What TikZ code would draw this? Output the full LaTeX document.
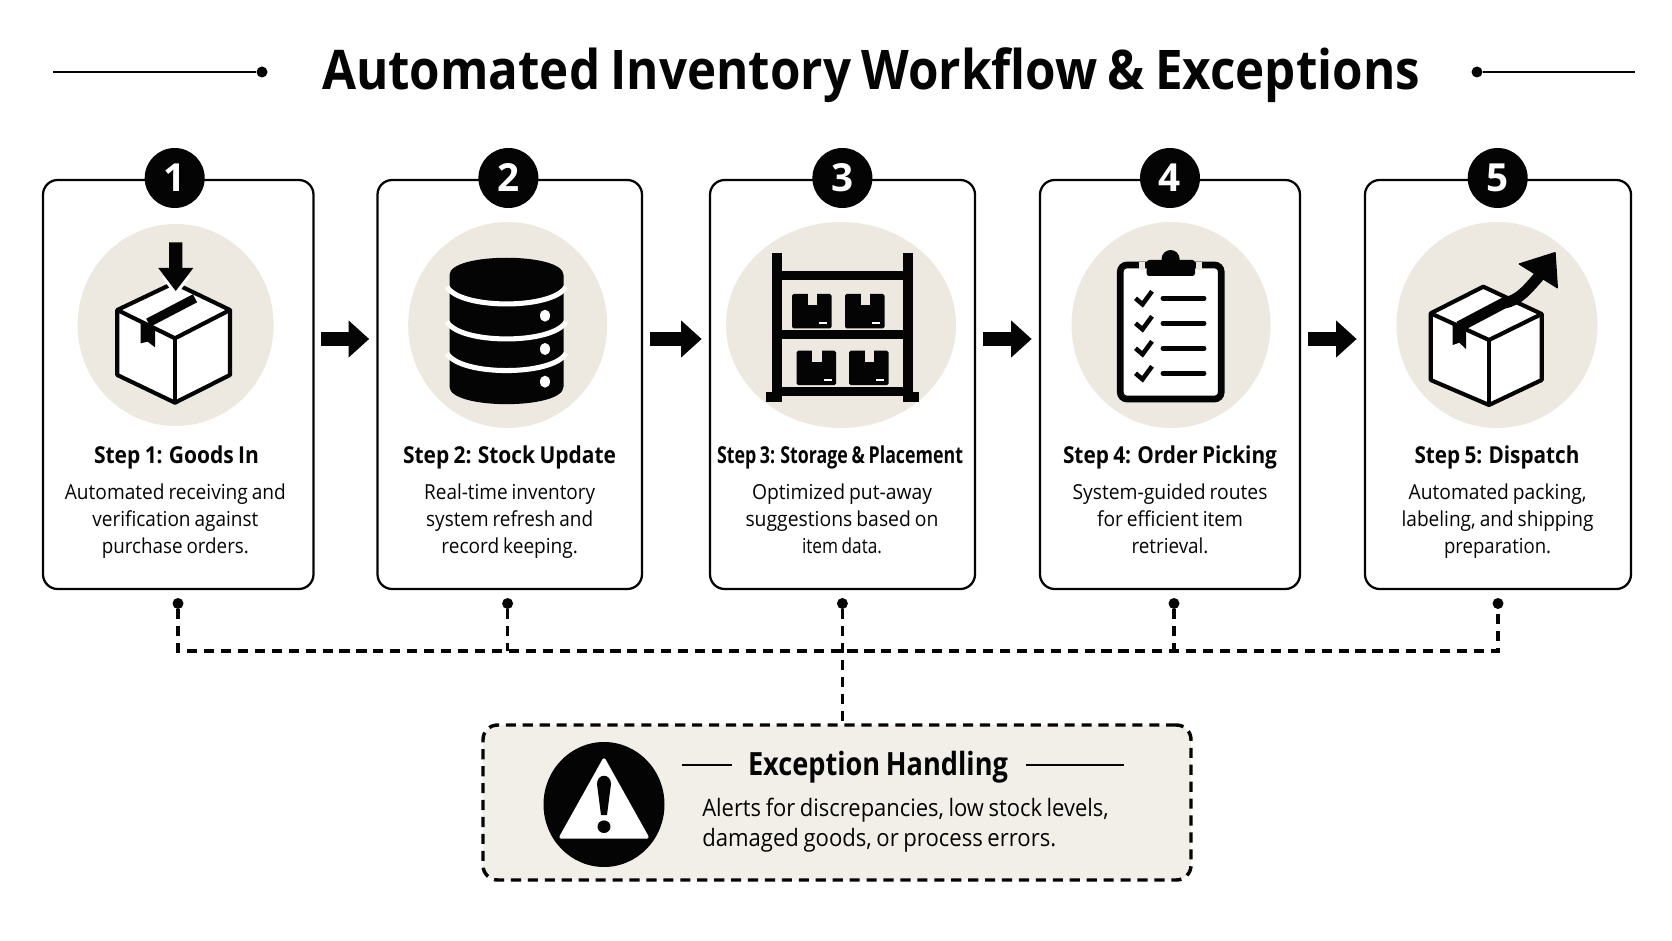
\documentclass[tikz,border=0pt]{standalone}
\usepackage{fontspec}
\usepackage{graphicx}
\setmainfont[Ligatures=CommonOff,WordSpace=0.8]{Open Sans}
\usetikzlibrary{arrows.meta,calc,shapes.geometric}
\definecolor{beige}{HTML}{EDE8E0}
\definecolor{excfill}{HTML}{F2EEE8}
\definecolor{ink}{HTML}{040404}
\newlength\fxlen
\newcommand\fx[2]{\settowidth{\fxlen}{#2}\pgfmathsetmacro\fxr{#1*0.75/\fxlen}\vphantom{Agy}\scalebox{\fxr}[1]{#2}}
\newcommand\pxfont[2]{\fontsize{#1}{#2}\selectfont}
\tikzset{
  card/.style={draw=ink,line width=1.7pt,fill=white,rounded corners=11pt,inner sep=0pt,minimum height=409*0.75pt},
  badge/.style={circle,fill=ink,text=white,inner sep=0pt,minimum size=60*0.75pt,font=\bfseries\pxfont{29}{29}},
  steptitle/.style={anchor=base,text=ink,font=\bfseries\pxfont{17.5}{22},inner sep=0pt},
  stepdesc/.style={align=center,text=ink,font=\pxfont{15.5}{20.5},inner sep=0pt},
  flowarrow/.style={draw=ink,line width=10pt,-{Triangle[length=15.5pt,width=27pt]},shorten >=5.4pt,shorten <=5pt},
  busdot/.style={circle,fill=ink,inner sep=0pt,minimum size=11*0.75pt},
  bus/.style={draw=ink,line width=2.6pt,dash pattern=on 7.6pt off 5.1pt},
  ruleline/.style={draw=ink,line width=1.5pt},
  icon/.style={draw=ink,line width=3.1pt,line join=round,fill=white},
}
\begin{document}
\begin{tikzpicture}[x=0.75pt,y=-0.75pt]
\useasboundingbox (0,0) rectangle (1672,941);
\fill[white] (0,0) rectangle (1672,941);

% title
\node[anchor=base,inner sep=0pt,text=ink,font=\bfseries\pxfont{41}{48}] (title) at (871,90) {\fx{1098}{Automated Inventory Workflow \& Exceptions}};
\node[busdot] (tl) at (262,72) {};
\node[busdot] (tr) at (1477,72) {};
\coordinate (tle) at (53,72);
\coordinate (tre) at (1635,72);
\draw[ruleline] (tle) -- (tl);
\draw[ruleline] (tr) -- (tre);

% cards
\node[card,minimum width=270.5*0.75pt] (s1) at (178.25,384.5) {};
\node[card,minimum width=264.5*0.75pt] (s2) at (509.75,384.5) {};
\node[card,minimum width=265*0.75pt] (s3) at (842.5,384.5) {};
\node[card,minimum width=260*0.75pt] (s4) at (1170,384.5) {};
\node[card,minimum width=266*0.75pt] (s5) at (1498,384.5) {};

% badges
\node[badge] (b1) at (174.7,178) {1};
\node[badge] (b2) at (508.4,178) {2};
\node[badge] (b3) at (842.4,178) {3};
\node[badge] (b4) at (1170,178) {4};
\node[badge] (b5) at (1497.7,178) {5};

% halos
\fill[beige] (175.6,325) ellipse [x radius=98*0.75pt,y radius=101*0.75pt];
\fill[beige] (507.7,325) ellipse [x radius=99.5*0.75pt,y radius=103*0.75pt];
\fill[beige] (841,325) ellipse [x radius=115*0.75pt,y radius=103*0.75pt];
\fill[beige] (1171,325) ellipse [x radius=99.5*0.75pt,y radius=103*0.75pt];
\fill[beige] (1497,325) ellipse [x radius=100.5*0.75pt,y radius=103*0.75pt];

% icon 1: box with arrow down
\draw[icon] (117.3,310) -- (174,283) -- (230,310) -- (230,375) -- (175,402.7) -- (117.3,375) -- cycle;
\draw[icon,fill=none] (117.3,310) -- (175,338.3) -- (230,310);
\draw[icon,fill=none] (175,338.3) -- (175,402.7);
\draw[ink,line width=6.8pt] (148.3,322.7) -- (195,298.3);
\fill[ink] (140.7,321.7) -- (155,330) -- (155,347.3) -- (147.7,341.7) -- (140.7,343.3) -- cycle;
\draw[white,line width=2.6pt,line join=round] (163,276) -- (175.7,293.5) -- (189,276);
\fill[ink] (169,242.3) -- (182.3,242.3) -- (182.3,268) -- (193.3,268) -- (175.7,291) -- (158.3,268) -- (169,268) -- cycle;

% icon 2: database
\fill[ink] (449.5,275) .. controls (449.5,252) and (563.5,252) .. (563.5,275) -- (563.5,386.7) .. controls (563.5,410) and (449.5,410) .. (449.5,386.7) -- cycle;
\foreach \yy in {286.7,321.7,353.3}{
  \draw[white,line width=3.8pt] (447,\yy) .. controls (460,\yy+23) and (553,\yy+23) .. (566,\yy);
}
\fill[white] (545,315.7) ellipse [x radius=5*0.75pt,y radius=6*0.75pt];
\fill[white] (545,349) ellipse [x radius=5*0.75pt,y radius=6*0.75pt];
\fill[white] (545,381.7) ellipse [x radius=5*0.75pt,y radius=6*0.75pt];

% icon 3: shelf
\fill[ink] (772,252.7) rectangle (782,401.7);
\fill[ink] (903.4,252.7) rectangle (913,401.7);
\fill[ink] (766,391.7) rectangle (782,401.7);
\fill[ink] (903.4,391.7) rectangle (919.4,401.7);
\fill[ink] (772,270.7) rectangle (913,280);
\fill[ink] (772,330) rectangle (913,339.3);
\fill[ink] (772,386.7) rectangle (913,396);
\foreach \bx/\by in {792/294,845/294,796.5/350.7,849/350.7}{
  \fill[ink,rounded corners=1.2pt] (\bx,\by) rectangle (\bx+39.5,\by+34.4);
  \fill[beige] (\bx+15.8,\by-1) rectangle (\bx+25,\by+11);
  \fill[white] (\bx+27,\by+28) rectangle (\bx+35,\by+30.4);
}

% icon 4: clipboard
\draw[ink,line width=5pt,fill=white,rounded corners=5pt] (1120.3,265) rectangle (1221.2,399);
\draw[beige,line width=4pt] (1142,262) -- (1142,270);
\draw[beige,line width=4pt] (1199,262) -- (1199,270);
\fill[ink,rounded corners=2pt] (1146.6,260) rectangle (1195,276);
\fill[ink] (1170.6,259) circle [radius=9*0.75pt];
\foreach \yy in {298.3,323.3,348.3,373.3}{
  \draw[ink,line width=3.7pt,line cap=round] (1163,\yy) -- (1204,\yy);
  \draw[ink,line width=3.4pt,line join=miter] (1135.5,\yy) -- (1142.5,\yy+6) -- (1152,\yy-7);
}

% icon 5: box with arrow out
\draw[icon] (1430.7,313.3) -- (1483.3,286.7) -- (1541.7,314) -- (1541.7,380) -- (1489,405) -- (1430.7,380) -- cycle;
\draw[icon,fill=none] (1430.7,313.3) -- (1489,340) -- (1541.7,314);
\draw[icon,fill=none] (1489,340) -- (1489,405);
\draw[ink,line width=8.3pt,line cap=butt] (1459,326.7) -- (1503.3,303.3) .. controls (1520,300) and (1526.7,290) .. (1541.7,273.3);
\fill[ink] (1452.7,323.3) -- (1466,331.7) -- (1466,349) -- (1459.3,342.7) -- (1452.7,345) -- cycle;
\fill[ink,line join=round,draw=ink,line width=1pt] (1555,252.7) -- (1519.3,264) -- (1557.3,287.7) -- cycle;

% flow arrows
\coordinate (ay) at (0,339);
\draw[flowarrow] (s1.east |- ay) -- (s2.west |- ay);
\draw[flowarrow] (s2.east |- ay) -- (s3.west |- ay);
\draw[flowarrow] (s3.east |- ay) -- (s4.west |- ay);
\draw[flowarrow] (s4.east |- ay) -- (s5.west |- ay);

% step titles
\node[steptitle] (t1) at (176.5,463.5) {\fx{165}{Step 1: Goods In}};
\node[steptitle] (t2) at (509.5,463.5) {\fx{213}{Step 2: Stock Update}};
\node[steptitle] (t3) at (840,463.5) {\fx{246}{Step 3: Storage \& Placement}};
\node[steptitle] (t4) at (1170,463.5) {\fx{214}{Step 4: Order Picking}};
\node[steptitle] (t5) at (1497,463.5) {\fx{165}{Step 5: Dispatch}};

% descriptions
\node[stepdesc] (d1) at (175.4,521) {\fx{221}{Automated receiving and}\\\fx{166}{verification against}\\\fx{147}{purchase orders.}};
\node[stepdesc] (d2) at (509.7,521) {\fx{171}{Real-time inventory}\\\fx{167}{system refresh and}\\\fx{136.5}{record keeping.}};
\node[stepdesc] (d3) at (842,521) {\fx{180}{Optimized put-away}\\\fx{193}{suggestions based on}\\\fx{80}{item data.}};
\node[stepdesc] (d4) at (1170,521) {\fx{195}{System-guided routes}\\\fx{146}{for efficient item}\\\fx{77}{retrieval.}};
\node[stepdesc] (d5) at (1497.6,521) {\fx{178}{Automated packing,}\\\fx{192}{labeling, and shipping}\\\fx{107}{preparation.}};

% exception box
\node[draw=ink,line width=2.6pt,dash pattern=on 7.6pt off 5.1pt,fill=excfill,rounded corners=11pt,inner sep=0pt,minimum width=708*0.75pt,minimum height=155*0.75pt] (exc) at (837,802.5) {};
\node[ellipse,fill=ink,inner sep=0pt,minimum width=121*0.75pt,minimum height=125*0.75pt] (warn) at (604,804.5) {};
\fill[white,draw=white,line width=2.5pt,line join=round] (604,760) -- (647,837) -- (561,837) -- cycle;
\fill[ink] (597,784) .. controls (597,773) and (611,773) .. (611,784) -- (607,815) -- (601,815) -- cycle;
\fill[ink] (604,826.7) ellipse [x radius=6.5*0.75pt,y radius=6.3*0.75pt];
\node[anchor=base,inner sep=0pt,text=ink,font=\bfseries\pxfont{24}{26}] (exct) at (878,775.5) {\fx{260}{Exception Handling}};
\coordinate (el1) at (681.5,765); \coordinate (el2) at (731.5,765);
\coordinate (er1) at (1026,765); \coordinate (er2) at (1124,765);
\draw[ruleline] (el1) -- (el2);
\draw[ruleline] (er1) -- (er2);
\node[anchor=west,align=left,inner sep=0pt,text=ink,font=\pxfont{18}{22.5}] (excd) at (702,825) {\fx{406.5}{Alerts for discrepancies, low stock levels,}\\\fx{354}{damaged goods, or process errors.}};

% exception bus
\node[busdot] (p1) at (178,603.5) {};
\node[busdot] (p2) at (507.6,603.5) {};
\node[busdot] (p3) at (842.4,603.5) {};
\node[busdot] (p4) at (1174,603.5) {};
\node[busdot] (p5) at (1498,603.5) {};
\coordinate (busl) at (178,651);
\coordinate (busr) at (1498,651);
\draw[bus] (p1) -- (busl) -- (busr) -- (p5);
\draw[bus] (p2) -- (p2 |- busl);
\draw[bus] (p4) -- (p4 |- busl);
\draw[bus] (p3) -- (p3 |- exc.north);
\end{tikzpicture}
\end{document}
